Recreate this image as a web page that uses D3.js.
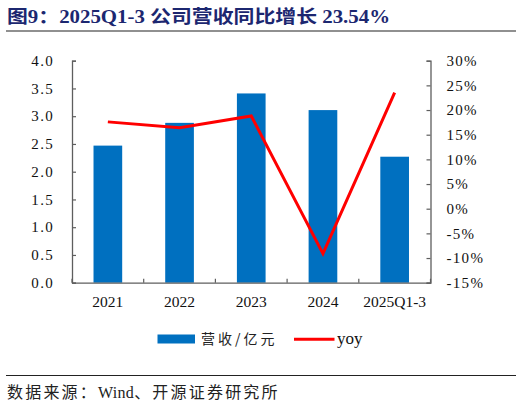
<!DOCTYPE html>
<html><head><meta charset="utf-8">
<script src="https://cdn.jsdelivr.net/npm/d3@7"></script>
<style>
body{margin:0;background:#fff;}
svg{display:block;}
</style></head>
<body>
<svg id="c" width="522" height="405"></svg>
<script>
const categories = ["2021","2022","2023","2024","2025Q1-3"];
const revenue = [2.47, 2.88, 3.41, 3.11, 2.27];
const yoy = [17.6, 16.4, 18.8, -9.1, 23.54];
const leftTicks = [0,0.5,1,1.5,2,2.5,3,3.5,4];
const rightTicks = [-15,-10,-5,0,5,10,15,20,25,30];
const titleText = "图9：2025Q1-3 公司营收同比增长 23.54%";
const sourceParts = ["数据来源：","Wind","、开源证券研究所"];
const legendLabels = ["营收/亿元","yoy"];

const svg = d3.select("#c");
const serif = "'Liberation Serif','Times New Roman','Noto Sans CJK SC',serif";
const L = 72, R = 430.5, T = 60.7, B = 282.7;
const axisColor = "#5e5e5e";

const x = d3.scaleBand().domain(categories).range([L, R]).paddingInner(0).paddingOuter(0);
const yL = d3.scaleLinear().domain([0,4]).range([B, T]);
const yR = d3.scaleLinear().domain([-15,30]).range([B, T]);

// title
svg.append("text").attr("x",7).attr("y",23)
  .attr("font-family",serif).attr("font-weight","bold").attr("font-size",18)
  .attr("fill","#1c2770")
  .attr("textLength",383).attr("lengthAdjust","spacingAndGlyphs")
  .text(titleText);
svg.append("line").attr("x1",6).attr("x2",516).attr("y1",31).attr("y2",31)
  .attr("stroke","#222").attr("stroke-width",1.2);

// bars
const bw = x.bandwidth()*0.4;
svg.append("g").selectAll("rect").data(categories).join("rect")
  .attr("x", d => x(d) + (x.bandwidth()-bw)/2)
  .attr("width", bw)
  .attr("y", (d,i) => yL(revenue[i]))
  .attr("height", (d,i) => B - yL(revenue[i]))
  .attr("fill","#0070C0");

// axes
const gL = svg.append("g").attr("transform",`translate(${L},0)`)
  .call(d3.axisRight(yL).tickValues(leftTicks).tickSize(4).tickFormat(""));
const gR = svg.append("g").attr("transform",`translate(${R},0)`)
  .call(d3.axisLeft(yR).tickValues(rightTicks).tickSize(4).tickFormat(""));
const gB = svg.append("g").attr("transform",`translate(0,${B})`)
  .call(d3.axisTop(x).tickSize(0).tickFormat(""));
[gL,gR,gB].forEach(g => {
  g.selectAll("path.domain").attr("stroke",axisColor).attr("stroke-width",1.3);
  g.selectAll(".tick line").attr("stroke",axisColor).attr("stroke-width",1.2);
});
const bounds = categories.map(c => x(c)).concat([R]);
svg.append("g").selectAll("line").data(bounds).join("line")
  .attr("x1",d=>d).attr("x2",d=>d).attr("y1",B).attr("y2",B-4)
  .attr("stroke",axisColor).attr("stroke-width",1.2);

// tick labels
svg.append("g").selectAll("text").data(leftTicks).join("text")
  .attr("x",54).attr("y",d=>yL(d)).attr("dy","0.35em")
  .attr("text-anchor","end").attr("font-family",serif).attr("font-size",15)
  .attr("letter-spacing",1.3).attr("fill","#111")
  .text(d3.format(".1f"));
svg.append("g").selectAll("text").data(rightTicks).join("text")
  .attr("x",446.5).attr("y",d=>yR(d)).attr("dy","0.35em")
  .attr("text-anchor","start").attr("font-family",serif).attr("font-size",15)
  .attr("letter-spacing",1.3).attr("fill","#111")
  .text(d => d + "%");
svg.append("g").selectAll("text").data(categories).join("text")
  .attr("x",d=>x(d)+x.bandwidth()/2).attr("y",306.5)
  .attr("text-anchor","middle").attr("font-family",serif).attr("font-size",15.5)
  .attr("fill","#111").text(d=>d);

// line
const line = d3.line().x((d,i)=>x(categories[i])+x.bandwidth()/2).y(d=>yR(d));
svg.append("path").datum(yoy).attr("d",line)
  .attr("fill","none").attr("stroke","#ff0000").attr("stroke-width",3)
  .attr("stroke-linejoin","miter");

// legend
const lg = svg.append("g");
lg.append("rect").attr("x",157.5).attr("y",334.5).attr("width",37.5).attr("height",9).attr("fill","#0070C0");
lg.append("text").attr("x",201).attr("y",344).attr("font-family","'Noto Sans CJK SC',sans-serif")
  .attr("font-size",14).attr("letter-spacing",3).attr("fill","#222").text(legendLabels[0]);
lg.append("line").attr("x1",294).attr("x2",334.5).attr("y1",339.3).attr("y2",339.3)
  .attr("stroke","#ff0000").attr("stroke-width",3);
lg.append("text").attr("x",337).attr("y",343.5).attr("font-family",serif)
  .attr("font-size",17).attr("fill","#111").text(legendLabels[1]);

// source
svg.append("line").attr("x1",6).attr("x2",516).attr("y1",375.5).attr("y2",375.5)
  .attr("stroke","#222").attr("stroke-width",1.2);
const st = svg.append("text").attr("x",7).attr("y",397.5).attr("font-family",serif)
  .attr("font-size",16).attr("fill","#222");
st.selectAll("tspan").data(sourceParts).join("tspan")
  .attr("letter-spacing",(d,i)=> i===1 ? 0.3 : 2.2)
  .text(d=>d);
</script>
</body></html>
